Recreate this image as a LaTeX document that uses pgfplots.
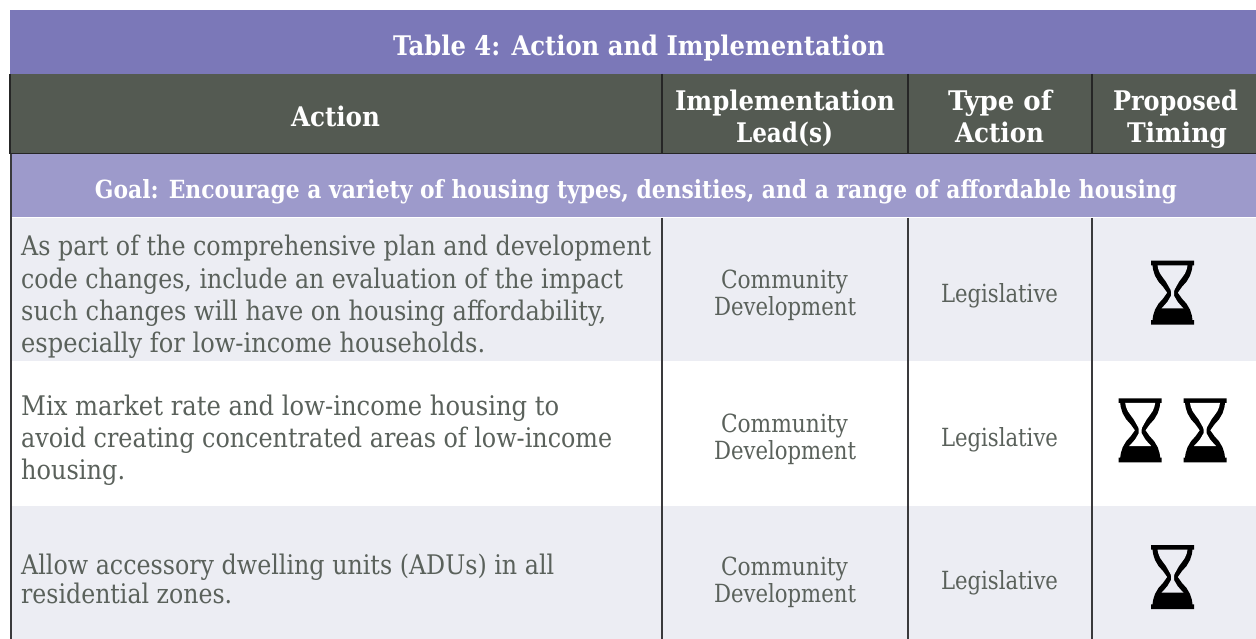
\documentclass[border=0pt]{standalone}
\usepackage{fontspec}
\setmainfont{DejaVu Serif}
\usepackage{graphicx}
\usepackage{pgfplots}
\usepackage{pgfplotstable}
\pgfplotsset{compat=1.18}
\definecolor{titlebg}{HTML}{7B78B8}
\definecolor{headbg}{HTML}{545A52}
\definecolor{goalbg}{HTML}{9D9ACB}
\definecolor{rowbg}{HTML}{ECEDF3}
\definecolor{txt}{HTML}{5A615B}
\definecolor{rule}{HTML}{3A3A3C}
\pgfplotstableread{
x y
-21.5 0
21.5 0
21.5 4.6
20 4.6
19.4 9
17.5 15
14 21
9.5 26
5.2 32
9.5 38
14 43
17.5 49
19.4 55
20 59.4
21.5 59.4
21.5 64
-21.5 64
-21.5 59.4
-20 59.4
-19.4 55
-17.5 49
-14 43
-9.5 38
-5.2 32
-9.5 26
-14 21
-17.5 15
-19.4 9
-20 4.6
-21.5 4.6
}\hgouter
\pgfplotstableread{
x y
-15 4.6
15 4.6
14.2 8.5
12.5 12.7
9.5 17
6.5 21
2 29
1.5 31
1.5 35
5 41
8 44.5
11 47.7
-11 47.7
-8 44.5
-5 41
-1.5 35
-1.5 31
-2 29
-6.5 21
-9.5 17
-12.5 12.7
-14.2 8.5
}\hginner
\newcommand\hourglass[3]{%
  \addplot[fill=black,draw=none] table[x expr=\thisrow{x}+#1,y expr=\thisrow{y}+#2]{\hgouter} -- cycle;
  \addplot[fill=#3,draw=none] table[x expr=\thisrow{x}+#1,y expr=\thisrow{y}+#2]{\hginner} -- cycle;
}
\newcommand\band[5]{% x0 x1 y0 y1 colour
  \addplot[fill=#5,draw=none] coordinates {(#1,#3) (#2,#3) (#2,#4) (#1,#4)} -- cycle;
}
\newcommand\vrulex[4]{% x y0 y1 colour
  \addplot[draw=#4,line width=2pt] coordinates {(#1,#2) (#1,#3)};
}
\newcommand\bodyl[3]{\node[anchor=base west,inner sep=0pt,text=txt,font=\fontsize{27}{27}\selectfont] at (axis cs:21,#1) {\resizebox{#2pt}{\height}{#3}};}
\newcommand\ctext[4]{\node[anchor=base,inner sep=0pt,text=txt,font=\fontsize{25}{25}\selectfont] at (axis cs:#1,#2) {\resizebox{#3pt}{\height}{#4}};}
\newcommand\hd[4]{\node[anchor=base,inner sep=0pt,text=white,font=\fontsize{27}{27}\selectfont\bfseries] at (axis cs:#1,#2) {\resizebox{#3pt}{\height}{#4}};}
\begin{document}
\begin{tikzpicture}
\begin{axis}[
  width=1256pt,height=639pt,scale only axis,
  xmin=0,xmax=1256,ymin=0,ymax=639,y dir=reverse,
  axis lines=none,clip=true,
  every axis plot/.append style={forget plot}
]
\band{0}{1256}{0}{639}{white}
\band{10}{1256}{10}{74}{titlebg}
\band{10}{1256}{74}{153}{headbg}
\band{10}{1256}{154}{217.5}{goalbg}
\band{10}{1256}{218}{361}{rowbg}
\band{10}{1256}{506}{639}{rowbg}
\addplot[draw=black!85,line width=1.6pt] coordinates {(10,153.5) (1256,153.5)};
\vrulex{10.3}{74}{154}{black!85}
\vrulex{10.6}{154}{639}{rule}
\vrulex{661.7}{74}{154}{black!85}
\vrulex{907.7}{74}{154}{black!85}
\vrulex{1091.7}{74}{154}{black!85}
\vrulex{661.7}{218}{639}{rule}
\vrulex{907.7}{218}{639}{rule}
\vrulex{1091.7}{218}{639}{rule}
\hourglass{1172.5}{260.7}{rowbg}
\hourglass{1140.2}{398.3}{white}
\hourglass{1205}{398.3}{white}
\hourglass{1172.5}{545}{rowbg}
\hd{639}{56}{492}{Table 4: Action and Implementation}
\hd{335.5}{127}{89}{Action}
\hd{785}{110.7}{220}{Implementation}
\hd{784.5}{143}{97}{Lead(s)}
\hd{1000}{110.7}{104}{Type of}
\hd{999.5}{143}{89}{Action}
\hd{1175.5}{110.7}{125}{Proposed}
\hd{1177}{143}{100}{Timing}
\node[anchor=base,inner sep=0pt,text=white,font=\fontsize{25}{25}\selectfont\bfseries] at (axis cs:636,198.3) {\resizebox{1082pt}{\height}{Goal: Encourage a variety of housing types, densities, and a range of affordable housing}};
\bodyl{255.3}{630}{As part of the comprehensive plan and development}
\bodyl{288}{602}{code changes, include an evaluation of the impact}
\bodyl{320}{585}{such changes will have on housing affordability,}
\bodyl{352}{464}{especially for low-income households.}
\bodyl{415}{538}{Mix market rate and low-income housing to}
\bodyl{447}{591}{avoid creating concentrated areas of low-income}
\bodyl{479}{104}{housing.}
\bodyl{574.5}{533}{Allow accessory dwelling units (ADUs) in all}
\bodyl{603.5}{211}{residential zones.}
\ctext{784.5}{288.3}{127}{Community}
\ctext{785}{315.5}{142}{Development}
\ctext{999.5}{302}{117}{Legislative}
\ctext{784.5}{432}{127}{Community}
\ctext{785}{459.5}{142}{Development}
\ctext{999.5}{446}{117}{Legislative}
\ctext{784.5}{575}{127}{Community}
\ctext{785}{602.5}{142}{Development}
\ctext{999.5}{589}{117}{Legislative}
\end{axis}
\end{tikzpicture}
\end{document}
